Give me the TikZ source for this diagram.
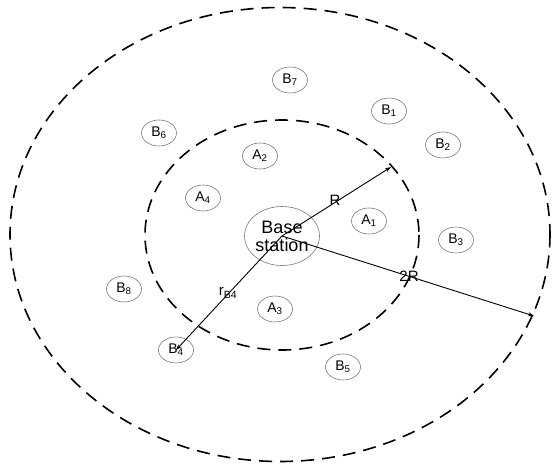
\documentclass[tikz,border=0pt]{standalone}
\usepackage{fontspec}
\setmainfont{Liberation Sans}
\usetikzlibrary{shapes.geometric, arrows.meta, positioning}
\definecolor{cellgray}{RGB}{120, 120, 120}

\tikzset{
  zone/.style={line width=1.6pt, dash pattern=on 13pt off 8pt},
  user/.style={draw=cellgray, line width=0.6pt, ellipse, minimum width=35pt, minimum height=26pt, inner sep=0pt, font=\fontsize{14}{15}\selectfont},
  radius/.style={line width=0.9pt, -{Stealth[length=6pt, width=4pt]}},
  rlabel/.style={font=\fontsize{15}{16}\selectfont, inner sep=0pt}
}

\begin{document}
\begin{tikzpicture}[x=1pt, y=-1pt]
  \useasboundingbox (0,0) rectangle (552,466);

  % ===== 覆盖区域 =====
  \draw[zone] (280,234.5) ellipse [x radius=270, y radius=227];
  \draw[zone] (282,235) ellipse [x radius=137, y radius=115];

  % 基站
  \node[draw=cellgray, line width=0.6pt, ellipse, minimum width=70pt, minimum height=59pt, inner sep=0pt,
        align=center, font=\fontsize{18}{18}\selectfont] (bs) at (282,236) {Base\\station};

  % 内圈用户
  \node[user] (a1) at (369,221) {A\textsubscript{1}};
  \node[user] (a2) at (260,156) {A\textsubscript{2}};
  \node[user] (a3) at (275,309) {A\textsubscript{3}};
  \node[user] (a4) at (203,198) {A\textsubscript{4}};

  % 外圈用户
  \node[user] (b1) at (389,111) {B\textsubscript{1}};
  \node[user] (b2) at (443,145) {B\textsubscript{2}};
  \node[user] (b3) at (456,240) {B\textsubscript{3}};
  \node[user] (b4) at (176,350) {B\textsubscript{4}};
  \node[user] (b5) at (343,367) {B\textsubscript{5}};
  \node[user] (b6) at (159,133) {B\textsubscript{6}};
  \node[user] (b7) at (290,80) {B\textsubscript{7}};
  \node[user] (b8) at (124,289) {B\textsubscript{8}};

  % 半径
  \coordinate (rin) at (391,167);
  \coordinate (rout) at (534,316);
  \draw[radius] (bs.center) -- (rin);
  \draw[radius] (bs.center) -- (rout);
  \draw[radius] (bs.center) -- (b4.center);
  \node[rlabel] (lr) at (335,200) {R};
  \node[rlabel] (l2r) at (409,276) {2R};
  \node[rlabel] (lrb) at (228,293) {r\textsubscript{B4}};
\end{tikzpicture}
\end{document}
